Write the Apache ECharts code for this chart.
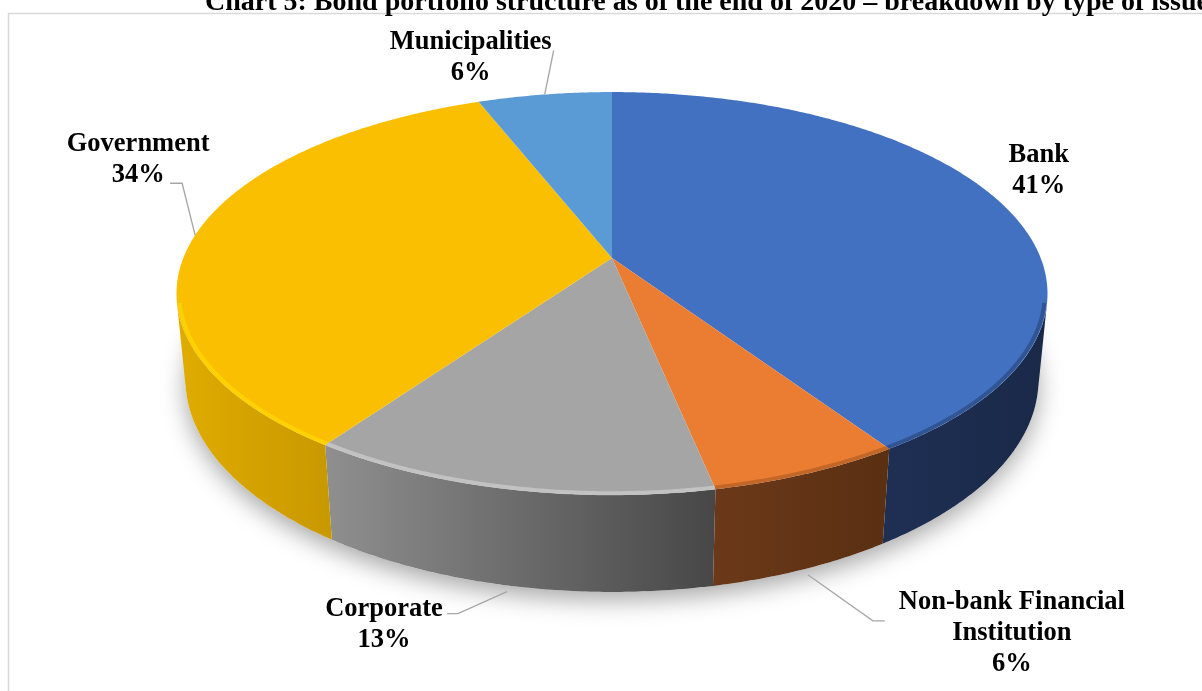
<!DOCTYPE html>
<html>
<head>
<meta charset="utf-8">
<script src="https://cdn.jsdelivr.net/npm/echarts@6/dist/echarts.min.js"></script>
<style>
  html, body { margin: 0; padding: 0; background: #fff; }
  #chart { width: 1202px; height: 691px; }
</style>
</head>
<body>
<div id="chart"></div>
<script>
// data (share of the bond portfolio, %)
const categories = ["Bank", "Non-bank Financial Institution", "Corporate", "Government", "Municipalities"];
const labelNames = ["Bank", "Non-bank Financial\nInstitution", "Corporate", "Government", "Municipalities"];
const shares = [40.7, 6.1, 12.9, 34.4, 5.9];

const titleText = "Chart 5: Bond portfolio structure as of the end of 2020 \u2013 breakdown by type of issuer";

// styles
const topColors = ["#4371c1", "#ea7d31", "#a5a5a5", "#fabf00", "#5b9bd5"];
const sideColors = [
  ["#1f2f54", "#1a2948"],
  ["#6b3919", "#5a2f12"],
  ["#8f8f8f", "#474747"],
  ["#e0ac00", "#c89800"],
  ["#34608a", "#2f5880"],
];
const rimColors = ["rgba(20,35,70,0.45)", "rgba(90,45,15,0.35)", "#c9c9c9", "#ffd600", null];
// label placement relative to the slice anchor: [dx, dy] of label centre, leader points
const labelLayout = [
  { dx: 36, dy: -34, leader: null },
  { dx: 204, dy: 58, leader: [[65, 46], [77, 46]] },
  { dx: -123, dy: 33, leader: [[-49, 22], [-60, 22]] },
  { dx: -57, dy: -76, leader: [[-13, -52], [-25, -52]] },
  { dx: -74, dy: -37, leader: [[9, -44]] },
];

// 3d view of the disc
const CX = 612, CY = 258;
const FOCAL = 2165, RADIUS = 0.198, THICK = 0.045;
const SIN_A = 0.4553, COS_A = Math.sqrt(1 - SIN_A * SIN_A);
const VIS = Math.acos(-RADIUS / COS_A) * 180 / Math.PI; // side wall visible between VIS and 360-VIS

const total = shares.reduce((a, b) => a + b, 0);
const starts = [];
let acc = 0;
shares.forEach(v => { starts.push(acc / total * 360); acc += v; });

function project(deg, rf, z) {
  const p = deg * Math.PI / 180;
  const x = RADIUS * rf * Math.sin(p), d = RADIUS * rf * Math.cos(p);
  const v = d * SIN_A + z * COS_A;
  const w = 1 + d * COS_A - z * SIN_A;
  return [CX + FOCAL * x / w, CY - FOCAL * v / w];
}

function arc(a, b, rf, z) {
  const pts = [];
  const n = Math.max(2, Math.ceil(Math.abs(b - a) / 0.5));
  for (let i = 0; i <= n; i++) pts.push(project(a + (b - a) * i / n, rf, z));
  return pts;
}

const font = { fontWeight: "bold", fontSize: 26.5, fontFamily: '"Liberation Serif", "Times New Roman", serif' };

function renderSlice(params, api) {
  const i = params.dataIndex;
  const s = starts[i];
  const e = s + api.value(0) / total * 360;
  const children = [];

  if (i === 0) {
    // soft shadow under the disc
    children.push({
      type: "polygon", z2: 0,
      shape: { points: arc(0, 360, 1, -THICK) },
      style: { fill: "#fff", shadowBlur: 24, shadowColor: "rgba(0,0,0,0.35)", shadowOffsetY: 8 },
    });
  }

  // front side wall
  const a = Math.max(s, VIS), b = Math.min(e, 360 - VIS);
  if (a < b) {
    const upper = arc(a, b, 1, 0);
    const lower = arc(b, a, 1, -THICK);
    const pts = upper.concat(lower);
    const xs = pts.map(p => p[0]);
    children.push({
      type: "polygon", z2: 1,
      shape: { points: pts },
      style: {
        fill: new echarts.graphic.LinearGradient(Math.min(...xs), 0, Math.max(...xs), 0, [
          { offset: 0, color: sideColors[i][0] },
          { offset: 1, color: sideColors[i][1] },
        ], true),
      },
    });
    if (rimColors[i]) {
      children.push({
        type: "polyline", z2: 3,
        shape: { points: arc(a, b, 0.994, 0) },
        style: { stroke: rimColors[i], lineWidth: 4, fill: null, opacity: 0.8 },
      });
    }
  }

  // top face
  children.push({
    type: "polygon", z2: 2,
    shape: { points: [[CX, CY]].concat(arc(s, e, 1, 0)) },
    style: { fill: topColors[i] },
  });

  // label with leader line
  const mid = (s + e) / 2;
  const front = mid > VIS && mid < 360 - VIS;
  const anchor = front ? project(mid, 1.02, -THICK) : project(mid, 1, 0);
  const lay = labelLayout[i];
  if (lay.leader) {
    children.push({
      type: "polyline", z2: 4,
      shape: { points: [anchor].concat(lay.leader.map(p => [anchor[0] + p[0], anchor[1] + p[1]])) },
      style: { stroke: "#a6a6a6", lineWidth: 1.3, fill: null },
    });
  }
  children.push({
    type: "text", z2: 5,
    x: anchor[0] + lay.dx, y: anchor[1] + lay.dy,
    style: Object.assign({
      text: labelNames[i] + "\n" + Math.round(api.value(0) / total * 100) + "%",
      fill: "#000", align: "center", verticalAlign: "middle", lineHeight: 31,
    }, font),
  });

  return { type: "group", children };
}

const chart = echarts.init(document.getElementById("chart"));
chart.setOption({
  animation: false,
  graphic: [
    {
      type: "rect", z: 0,
      shape: { x: 8.5, y: 13.5, width: 1400, height: 1000 },
      style: { fill: "none", stroke: "#d9d9d9", lineWidth: 1.5 },
    },
    {
      type: "text", z: 10, x: 205, y: 3,
      style: Object.assign({ text: titleText, fill: "#000", verticalAlign: "middle" }, font, { fontSize: 28 }),
    },
  ],
  series: [
    {
      type: "custom",
      coordinateSystem: "none",
      silent: true,
      renderItem: renderSlice,
      data: shares.map((v, i) => ({ name: categories[i], value: [v] })),
    },
  ],
});
</script>
</body>
</html>
